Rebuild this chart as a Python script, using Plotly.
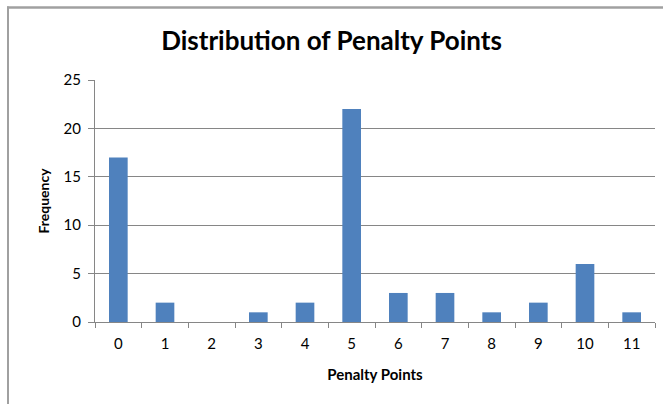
import plotly.graph_objects as go

categories = ["0", "1", "2", "3", "4", "5", "6", "7", "8", "9", "10", "11"]
frequency = [17, 2, 0, 1, 2, 22, 3, 3, 1, 2, 6, 1]
y_ticks = [0, 5, 10, 15, 20, 25]

W, H = 663, 404
L, R, T, B = 95, 8, 80, 82
PW, PH = W - L - R, H - T - B


def px_x(x):
    return (x - L) / PW


def px_y(y):
    return (H - B - y) / PH


fig = go.Figure(go.Bar(x=categories, y=frequency, marker=dict(color="#4F81BD", line=dict(width=0))))

fig.update_layout(
    width=W, height=H,
    margin=dict(l=L, r=R, t=T, b=B, autoexpand=False),
    plot_bgcolor="white", paper_bgcolor="white",
    bargap=0.6,
    showlegend=False,
    font=dict(family="Lato, Open Sans, sans-serif", color="#000000"),
    title=dict(text="<b>Distribution of Penalty Points</b>", x=0.5, xanchor="center",
               y=1 - 41 / H, yanchor="middle", font=dict(size=26)),
    xaxis=dict(type="category", tickson="boundaries", ticks="outside", ticklen=5,
               tickcolor="#868686", showline=True, linecolor="#868686", linewidth=1,
               showgrid=False, tickfont=dict(size=15), automargin=False,
               ticklabelstandoff=8,
               title=dict(text="<b>Penalty Points</b>", font=dict(size=15), standoff=18)),
    yaxis=dict(range=[0, 25], tickvals=y_ticks, ticks="outside", ticklen=6,
               tickcolor="#868686", showline=True, linecolor="#868686", linewidth=1,
               showgrid=True, gridcolor="#868686", gridwidth=1, zeroline=False,
               tickfont=dict(size=15), automargin=False, ticklabelstandoff=4,
               title=dict(text="<b>Frequency</b>", font=dict(size=14), standoff=10)),
    shapes=[
        dict(type="line", xref="paper", yref="paper", layer="above",
             x0=px_x(7), x1=px_x(W + 20), y0=px_y(7.5), y1=px_y(7.5),
             line=dict(color="#a0a0a0", width=2.5)),
        dict(type="line", xref="paper", yref="paper", layer="above",
             x0=px_x(8), x1=px_x(8), y0=px_y(6.5), y1=px_y(H + 20),
             line=dict(color="#a0a0a0", width=2)),
    ],
)

fig.write_html("out.html", config={"displayModeBar": False},
               post_script="document.body.style.margin='0';document.body.style.padding='0';document.body.style.overflow='hidden';")
